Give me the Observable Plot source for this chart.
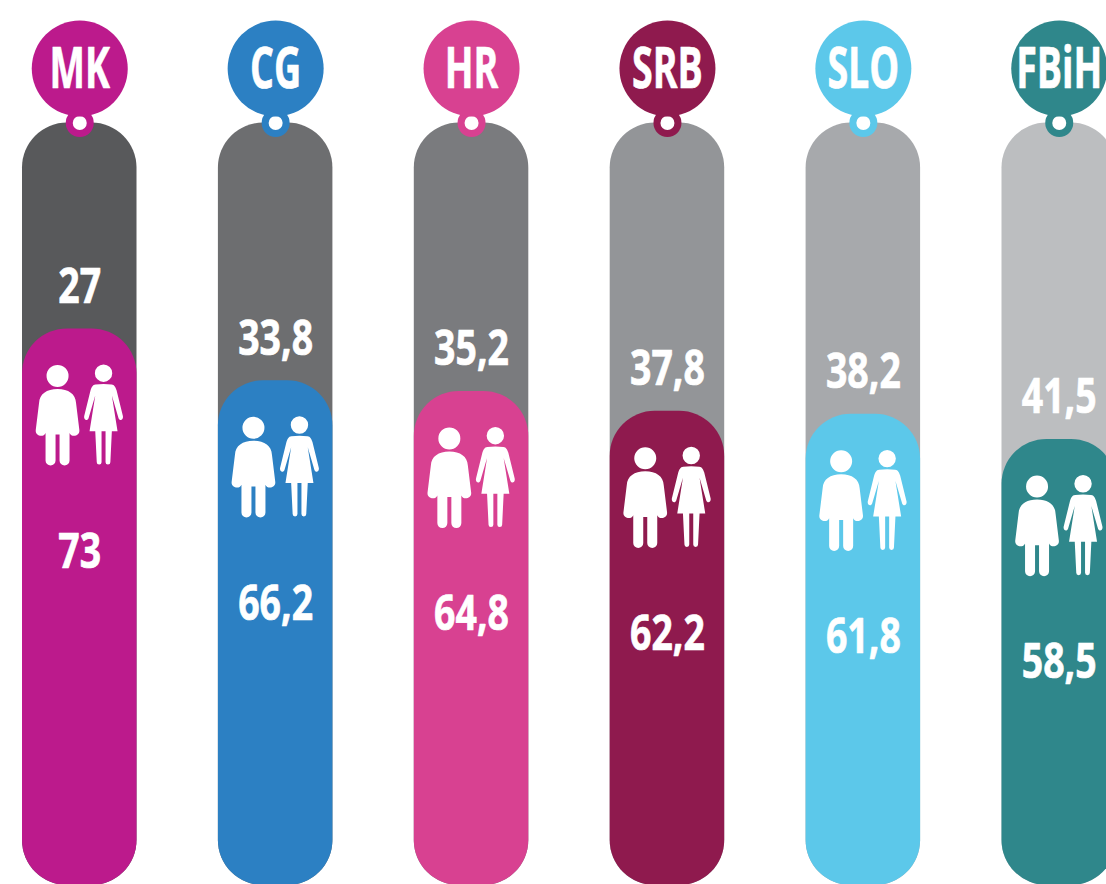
<!DOCTYPE html>
<html>
<head>
<meta charset="utf-8">
<script src="https://cdn.jsdelivr.net/npm/d3@7"></script>
<script src="https://cdn.jsdelivr.net/npm/@observablehq/plot@0.6"></script>
<style>
html,body{margin:0;padding:0;background:#fff;overflow:hidden}
svg{display:block}
</style>
</head>
<body>
<div id="chart"></div>
<script>
const codes = ["MK","CG","HR","SRB","SLO","FBiH"];
const upperValues = [27,33.8,35.2,37.8,38.2,41.5];
const lowerValues = [73,66.2,64.8,62.2,61.8,58.5];
const barColors = ["#BC1A8C","#2C80C3","#D84191","#8F1A4E","#5CC8EA","#2F878B"];
const greyColors = ["#58595B","#6D6E70","#7A7B7E","#939598","#A7A9AC","#BCBEC0"];

const rows = codes.map((code,i)=>({code,upper:upperValues[i],lower:lowerValues[i],tint:barColors[i],shade:greyColors[i]}));
const comma = v => String(v).replace(".",",");

// Pictogram of a man and a woman, drawn around the bar's centre and the top of its coloured part.
const couple = {draw(p){
  const mx=-22.2,my=47;
  p.moveTo(mx+11,my);p.arc(mx,my,11,0,2*Math.PI);p.closePath();
  p.moveTo(mx,my+13);
  p.bezierCurveTo(mx+11,my+13,mx+18,my+18,mx+18.5,my+27);
  p.lineTo(mx+21.8,my+54);
  p.bezierCurveTo(mx+22.6,my+60,mx+14,my+62,mx+12,my+57);
  p.lineTo(mx+12,my+84.7);p.arc(mx+7,my+84.7,5,0,Math.PI);
  p.lineTo(mx+2,my+58.7);p.lineTo(mx-2,my+58.7);p.lineTo(mx-2,my+84.7);
  p.arc(mx-7,my+84.7,5,0,Math.PI);
  p.lineTo(mx-12,my+57);
  p.bezierCurveTo(mx-14,my+62,mx-22.6,my+60,mx-21.8,my+54);
  p.lineTo(mx-18.5,my+27);
  p.bezierCurveTo(mx-18,my+18,mx-11,my+13,mx,my+13);p.closePath();
  const wx=23.8,wy=44.3;
  p.moveTo(wx+8.7,wy);p.arc(wx,wy,8.7,0,2*Math.PI);p.closePath();
  p.moveTo(wx,wy+10.7);
  p.lineTo(wx+8,wy+11.2);
  p.bezierCurveTo(wx+11,wy+11.5,wx+12,wy+14,wx+13,wy+17);
  p.lineTo(wx+19.4,wy+43);
  p.bezierCurveTo(wx+20,wy+47,wx+16,wy+48,wx+15,wy+45);
  p.lineTo(wx+8.3,wy+22.3);
  p.lineTo(wx+14,wy+58);p.lineTo(wx+8.3,wy+58);p.lineTo(wx+6.8,wy+89);
  p.arc(wx+4.4,wy+89,2.4,0,Math.PI);
  p.lineTo(wx+2,wy+58);p.lineTo(wx-2,wy+58);p.lineTo(wx-2,wy+89);
  p.arc(wx-4.4,wy+89,2.4,0,Math.PI);
  p.lineTo(wx-8.3,wy+58);p.lineTo(wx-14,wy+58);p.lineTo(wx-8.3,wy+22.3);
  p.lineTo(wx-15,wy+45);
  p.bezierCurveTo(wx-16,wy+48,wx-20,wy+47,wx-19.4,wy+43);
  p.lineTo(wx-13,wy+17);
  p.bezierCurveTo(wx-12,wy+14,wx-11,wy+11.5,wx-8,wy+11.2);
  p.closePath();
}};

// Narrow the glyphs of a text mark: the installed fonts have no bold condensed cut.
const narrow = (sx,sy=1) => (index,scales,values,dims,ctx,next) => {
  const g = next(index,scales,values,dims,ctx);
  g.querySelectorAll("text").forEach(t=>{
    t.setAttribute("transform",(t.getAttribute("transform")||"")+` scale(${sx},${sy})`);
  });
  return g;
};

const font = {fontFamily:"'Open Sans',sans-serif",fontWeight:700,fill:"white",stroke:"white",strokeWidth:0.7,lineAnchor:"middle",textAnchor:"middle"};

const chart = Plot.plot({
  width:1106,height:884,
  marginTop:0,marginRight:0,marginBottom:0,marginLeft:0,
  style:{background:"white"},
  x:{axis:null,domain:codes,range:[22,1116],paddingInner:0.4155,paddingOuter:0,align:0,round:false},
  y:{axis:null,domain:[0,100],range:[885,122.5]},
  color:{type:"identity"},
  marks:[
    Plot.barY(rows,{x:"code",y1:()=>0,y2:()=>100,fill:"shade",rx:45,ry:45}),
    Plot.dot(rows,{x:"code",y:()=>100,r:14,fill:"tint",stroke:null}),
    Plot.dot(rows,{x:"code",y:()=>100,r:7,fill:"white",stroke:null}),
    Plot.dot(rows,{x:"code",y:()=>100,dy:-54.5,r:48,fill:"tint",stroke:null}),
    Plot.barY(rows,{x:"code",y1:()=>0,y2:"lower",fill:"tint",rx:45,ry:45}),
    Plot.text(rows,{x:"code",y:()=>100,dy:-53.5,text:"code",...font,fontSize:57,render:narrow(0.66)}),
    Plot.text(rows,{x:"code",y:"lower",dy:-41.5,text:d=>comma(d.upper),...font,fontSize:48,render:narrow(0.78)}),
    Plot.text(rows,{x:"code",y:"lower",dy:223.5,text:d=>comma(d.lower),...font,fontSize:48,render:narrow(0.78)}),
    Plot.dot(rows,{x:"code",y:"lower",symbol:couple,r:10,fill:"white",stroke:null})
  ]
});
document.getElementById("chart").appendChild(chart);
</script>
</body>
</html>
